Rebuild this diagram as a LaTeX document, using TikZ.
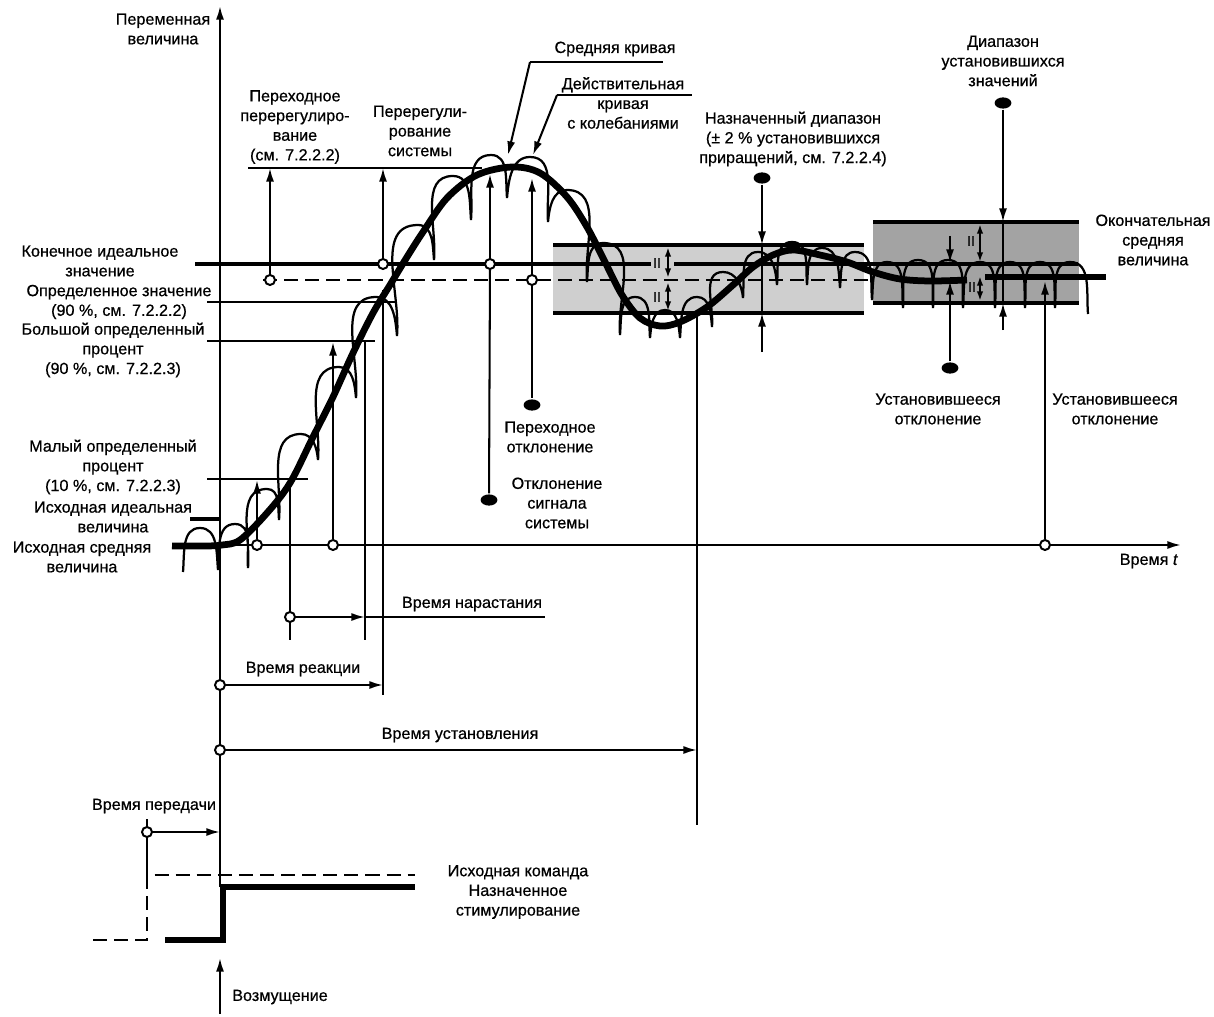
\documentclass[tikz,border=0pt]{standalone}
\usepackage{fontspec}
\setmainfont{Liberation Sans}
\newfontfamily\lblfam[FakeBold=0.6]{Liberation Sans}
\usetikzlibrary{arrows.meta,shapes.geometric}
\newcommand{\lblsize}{\lblfam\fontsize{11.5}{14}\selectfont}
\tikzset{
thinln/.style = {line width=1.45pt},
avgln/.style = {line width=4.8pt},
actln/.style = {line width=1.6pt},
idealln/.style = {line width=3.2pt},
bandln/.style = {line width=2.4pt},
dashln/.style = {line width=1.4pt, dash pattern=on 10pt off 5pt},
lbl/.style = {font=\lblsize, align=center, inner sep=0pt},
odot/.style = {circle, draw, fill=white, line width=1.4pt, inner sep=0pt, minimum size=2.5mm},
bdot/.style = {ellipse, fill=black, inner sep=0pt, minimum width=4.2mm, minimum height=2.8mm},
eqm/.style = {font=\lblfam\fontsize{10}{10}\selectfont, inner sep=0pt},
dbl/.style = {thinln, {Latex[length=2.4mm,width=1.6mm]}-{Latex[length=2.4mm,width=1.6mm]}}
}
\begin{document}
\begin{tikzpicture}[x=0.025cm, y=-0.025cm, >={Latex[length=3.4mm,width=2mm]}, thinln]
    \useasboundingbox (0,0) rectangle (1214,1017);
    % We start with the two bands
    \fill[black!19] (553,245) rectangle (864,313);
    \fill[black!36] (873,222) rectangle (1079,303);
    \draw[bandln] (553,245) -- (864,245);
    \draw[bandln] (553,313) -- (864,313);
    \draw[bandln] (873,222) -- (1079,222);
    \draw[bandln] (873,303) -- (1079,303);

    % axes
    \coordinate (yb) at (220,887);
    \coordinate (yt) at (220,6);
    \coordinate (tb) at (220,545);
    \coordinate (te) at (1181,545);
    \draw[->] (yb) -- (yt);
    \draw[->] (tb) -- (te);

    % reference levels
    \draw[idealln] (195,264) -- (651,264);
    \draw[idealln] (674,264) -- (1078,264);
    \draw[dashln] (263,280) -- (873,280);
    \draw (207,302) -- (397,302);
    \draw (207,341) -- (375,341);
    \draw (207,479) -- (308,479);
    \draw[idealln] (190,519) -- (220,519);
    \coordinate (osL) at (248,168);
    \coordinate (osR) at (482,168);
    \draw (osL) -- (osR);
    \draw[avgln] (985,277) -- (1106,277);

    % time marks
    \draw (290,479) -- (290,640);
    \draw (365,341) -- (365,640);
    \draw (383,290) -- (383,695);
    \draw (697,314) -- (697,825);

    % mean curve
    \draw[avgln] plot[smooth, tension=0.55] coordinates {(172,546) (205,546) (222,545) (240,540)
      (267,513) (290,483) (313,437) (333,397) (353,353) (373,313) (390,285) (407,257)
      (423,232) (447,198) (477,175) (512,167) (540,173) (567,197) (587,227) (605,262)
      (622,295) (640,318) (660,326) (680,322) (707,307) (733,285) (753,267) (773,255)
      (793,250) (820,255) (847,262) (873,272) (900,279) (930,281) (967,280)};

    % actual curve with oscillations
    \draw[actln] (183,572)
      foreach \tx/\ty/\cx/\cy in {200/528/218/570, 235/524/248/568, 267/489/279/520,
        301/434/318/460, 339/367/356/398, 376/297/397/336, 418/225/434/260,
        453/176/471/220, 491/155/507/198, 530/157/548/222, 567/190/587/282,
        603/243/620/335, 635/297/650/338, 665/310/680/338, 697/297/712/327,
        723/272/743/298, 758/252/777/285, 792/242/807/285, 822/248/840/288,
        855/252/872/300, 887/262/903/308, 918/260/933/308, 948/260/963/308,
        980/262/995/308, 1010/262/1025/308, 1040/262/1055/308, 1070/262/1088/314}
      { to[out=85,in=180] (\tx,\ty) to[out=0,in=95] (\cx,\cy) };

    % command and stimulus
    \draw[dashln] (93,940) -- (147,940) -- (147,875) -- (415,875);
    \draw (147,819) -- (147,874);
    \draw[line width=4.6pt] (165,940) -- (223,940) -- (223,887) -- (415,887);

    % circles and dots
    \node[odot] (tos) at (270,280) {};
    \node[odot] (sos) at (383,264) {};
    \node[odot] (pk) at (490,264) {};
    \node[odot] (tr) at (532,280) {};
    \node[bdot] (pkd) at (489,500) {};
    \node[bdot] (trd) at (532,405) {};
    \node[odot] (sp) at (257,545) {};
    \node[odot] (lp) at (333,545) {};
    \node[odot] (rs0) at (290,617) {};
    \node[odot] (rp0) at (220,685) {};
    \node[odot] (st0) at (220,750) {};
    \node[odot] (tx0) at (147,832) {};
    \node[bdot] (ndd) at (762,178) {};
    \node[bdot] (sdd) at (1003,103) {};
    \node[bdot] (ssd) at (950,368) {};
    \node[odot] (ssc) at (1045,545) {};

    % free ends
    \coordinate (pkt) at (490,174);
    \coordinate (trt) at (532,178);
    \coordinate (spt) at (257,480);
    \coordinate (lpt) at (333,342);
    \coordinate (rs1) at (365,617);
    \coordinate (rs2) at (545,617);
    \coordinate (rp1) at (383,685);
    \coordinate (st1) at (697,750);
    \coordinate (tx1) at (220,832);
    \coordinate (ds0) at (220,1014);
    \coordinate (ds1) at (220,958);
    \coordinate (nd1) at (762,245);
    \coordinate (nd2) at (762,313);
    \coordinate (nd3) at (762,352);
    \coordinate (sd1) at (1003,222);
    \coordinate (sd2) at (1003,303);
    \coordinate (sd3) at (1003,330);
    \coordinate (ss1) at (950,281);
    \coordinate (ss2) at (950,236);
    \coordinate (ss3) at (950,263);
    \coordinate (ss4) at (1045,281);
    \coordinate (mc0) at (530,62);
    \coordinate (mc1) at (663,62);
    \coordinate (mc2) at (508,155);
    \coordinate (ac0) at (557,95);
    \coordinate (ac1) at (692,95);
    \coordinate (ac2) at (533,155);

    % connectors
    \draw[->] (tos) -- (tos |- osL);
    \draw[->] (sos) -- (sos |- osL);
    \draw[->] (pk) -- (pkt);
    \draw (pk) -- (pkd);
    \draw[->] (tr) -- (trt);
    \draw (tr) -- (trd);
    \draw[->] (sp) -- (spt);
    \draw[->] (lp) -- (lpt);
    \draw[->] (rs0) -- (rs1);
    \draw (rs1) -- (rs2);
    \draw[->] (rp0) -- (rp1);
    \draw[->] (st0) -- (st1);
    \draw[->] (tx0) -- (tx1);
    \draw[->] (ds0) -- (ds1);
    \draw[->] (ndd) -- (nd1);
    \draw (nd1) -- (nd2);
    \draw[->] (nd3) -- (nd2);
    \draw[->] (sdd) -- (sd1);
    \draw (sd1) -- (sd2);
    \draw[->] (sd3) -- (sd2);
    \draw[->] (ssd) -- (ss1);
    \draw[->] (ss2) -- (ss3);
    \draw[->] (ssc) -- (ss4);
    \draw (mc0) -- (mc1);
    \draw[->] (mc0) -- (mc2);
    \draw (ac0) -- (ac1);
    \draw[->] (ac0) -- (ac2);

    % equal spans in the bands
    \draw[dbl] (668,247) -- (668,278);
    \draw[dbl] (668,282) -- (668,311);
    \draw[dbl] (980,224) -- (980,262);
    \draw[dbl] (980,276) -- (980,301);
    \node[eqm] (eq1) at (657,263) {II};
    \node[eqm] (eq2) at (657,297) {II};
    \node[eqm] (eq3) at (971,241) {II};
    \node[eqm] (eq4) at (972,287) {II};

    % labels
    \node[lbl] (varlbl) at (163,29) {Переменная\\величина};
    \node[lbl] (tovlbl) at (295,127) {Переходное\\перерегулиро-\\вание\\(см. 7.2.2.2)};
    \node[lbl] (sovlbl) at (420,131) {Перерегули-\\рование\\системы};
    \node[lbl] (mclbl) at (615,49) {Средняя кривая};
    \node[lbl] (aclbl) at (623,103) {Действительная\\кривая\\с колебаниями};
    \node[lbl] (ndlbl) at (793,139) {Назначенный диапазон\\(± 2 \% установившихся\\приращений, см. 7.2.2.4)};
    \node[lbl] (sdlbl) at (1003,61) {Диапазон\\установившихся\\значений};
    \node[lbl] (fmlbl) at (1153,240) {Окончательная\\средняя\\величина};
    \node[lbl] (filbl) at (100,261) {Конечное идеальное\\значение};
    \node[lbl] (dvlbl) at (119,302) {Определенное значение\\(90 \%, см. 7.2.2.2)};
    \node[lbl] (lplbl) at (113,350) {Большой определенный\\процент\\(90 \%, см. 7.2.2.3)};
    \node[lbl] (splbl) at (113,467) {Малый определенный\\процент\\(10 \%, см. 7.2.2.3)};
    \node[lbl] (iilbl) at (113,517) {Исходная идеальная\\величина};
    \node[lbl] (imlbl) at (82,557) {Исходная средняя\\величина};
    \node[lbl] (tdlbl) at (550,437) {Переходное\\отклонение};
    \node[lbl] (sslbl) at (557,503) {Отклонение\\сигнала\\системы};
    \node[lbl] (ss1lbl) at (938,409) {Установившееся\\отклонение};
    \node[lbl] (ss2lbl) at (1115,409) {Установившееся\\отклонение};
    \node[lbl, anchor=east] (tlbl) at (1179,561) {Время \textit{t}};
    \node[lbl] (rslbl) at (472,604) {Время нарастания};
    \node[lbl] (rplbl) at (303,669) {Время реакции};
    \node[lbl] (stlbl) at (460,735) {Время установления};
    \node[lbl] (txlbl) at (154,806) {Время передачи};
    \node[lbl] (cmdlbl) at (518,892) {Исходная команда\\Назначенное\\стимулирование};
    \node[lbl] (dslbl) at (280,997) {Возмущение};
\end{tikzpicture}
\end{document}
